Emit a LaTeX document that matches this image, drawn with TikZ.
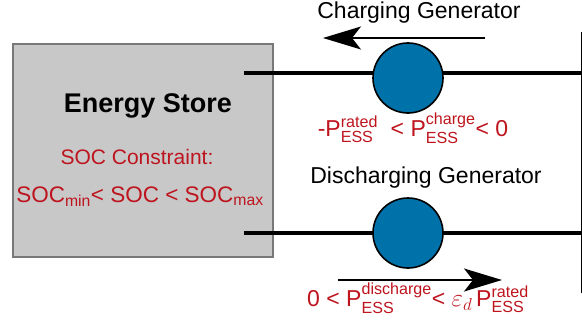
\documentclass[tikz,border=0pt]{standalone}
\usepackage{fontspec}
\usepackage{amsmath}
\setmainfont{Liberation Sans}
\usetikzlibrary{arrows.meta}
\definecolor{storegray}{RGB}{200,200,200}
\definecolor{storeedge}{RGB}{120,120,120}
\definecolor{genblue}{RGB}{0,114,170}
\definecolor{limitred}{RGB}{190,20,30}
\begin{document}
\begin{tikzpicture}[x = 1pt, y = -1pt,
		store/.style = { draw = storeedge, fill = storegray, line width = 2pt, minimum width = 260pt, minimum height = 213pt, inner sep = 0pt },
		gen/.style = { draw, circle, fill = genblue, line width = 1.6pt, minimum size = 70pt, inner sep = 0pt },
		bus/.style = { line width = 4pt },
		flow/.style = { line width = 1.5pt, -{Stealth[length = 38pt, width = 23pt, inset = 9pt]} },
		label/.style = { inner sep = 0pt, font = \fontsize{23}{26}\selectfont },
		limit/.style = { inner sep = 0pt, text = limitred, font = \fontsize{23}{26}\selectfont }]
				\useasboundingbox (0,0) rectangle (582,324);
				\node[store] (es) at (142.5,150) {};
				\node[inner sep = 0pt, font = \fontsize{27}{30}\selectfont\bfseries] (title) at (148,106) {Energy Store};
				\node[limit, font = \fontsize{21}{24}\selectfont] (soc) at (137,157) {SOC Constraint:};
				\node[limit, font = \fontsize{22.5}{26}\selectfont] (socrange) at (140,197) {SOC$_{\text{min}}$< SOC < SOC$_{\text{max}}$};
				\coordinate (chgin) at (244,73);
				\coordinate (disin) at (244,233);
				\coordinate (bustop) at (581,32);
				\coordinate (busbot) at (581,293);
				\coordinate (chgout) at (581,73);
				\coordinate (disout) at (581,233);
				\draw[line width = 1pt] (bustop) -- (busbot);
				\draw[bus] (chgin) -- (chgout);
				\draw[bus] (disin) -- (disout);
				\node[gen] (chg) at (408,78) {};
				\node[gen] (dis) at (408,233) {};
				\node[label] (chgname) at (419,13) {Charging Generator};
				\node[label] (disname) at (426,178) {Discharging Generator};
				\coordinate (chgfrom) at (485,38);
				\coordinate (chgto) at (323,38);
				\coordinate (disfrom) at (338,280);
				\coordinate (disto) at (502,280);
				\draw[flow] (chgfrom) -- (chgto);
				\draw[flow] (disfrom) -- (disto);
				\node[limit] (chglimit) at (413,128) {-P$^{\text{rated}}_{\text{ESS}}$ \ < P$^{\text{charge}}_{\text{ESS}}$< 0};
				\node[limit] (dislimit) at (418,298) {0 < P$^{\text{discharge}}_{\text{ESS}}$< $\varepsilon_d$\,P$^{\text{rated}}_{\text{ESS}}$};
			\end{tikzpicture}
\end{document}
